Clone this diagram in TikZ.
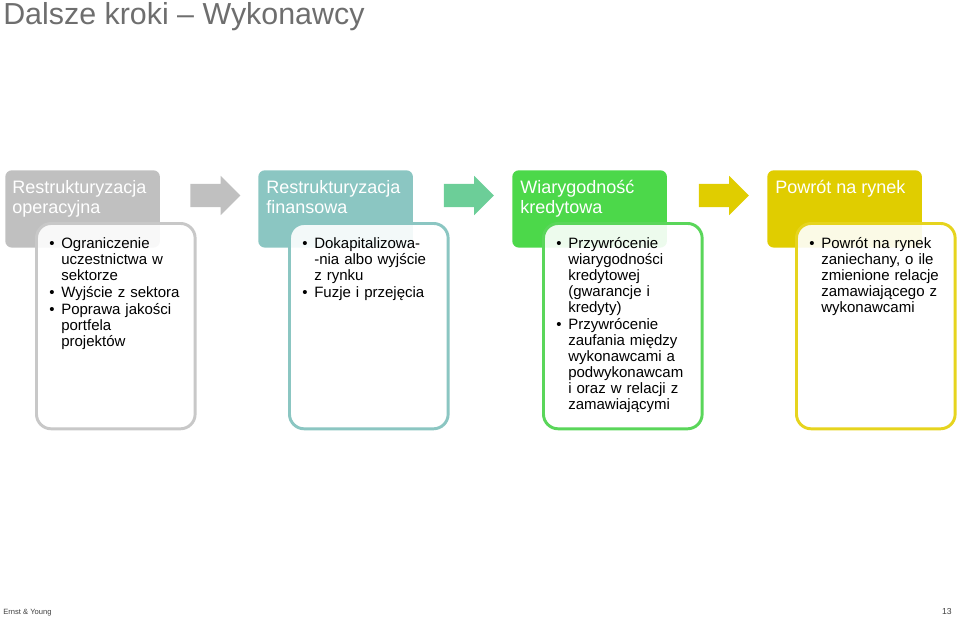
\documentclass[tikz,border=0pt]{standalone}
\usepackage{fontspec}
\setmainfont{Liberation Sans}
\usetikzlibrary{shapes.arrows}

\definecolor{szary}{RGB}{192,192,192}
\definecolor{szaryram}{RGB}{200,200,200}
\definecolor{morski}{RGB}{139,198,194}
\definecolor{mietowy}{RGB}{108,206,152}
\definecolor{zielony}{RGB}{76,216,74}
\definecolor{zielram}{RGB}{90,214,90}
\definecolor{zolty}{RGB}{224,205,0}
\definecolor{zoltram}{RGB}{230,212,30}
\definecolor{tytul}{RGB}{110,110,110}

\newenvironment{punkty}{\begin{list}{\textbullet}{\setlength{\leftmargin}{12pt}\setlength{\labelsep}{5pt}%
  \setlength{\labelwidth}{7pt}\setlength{\itemsep}{1pt}\setlength{\parsep}{0pt}%
  \setlength{\topsep}{0pt}\setlength{\partopsep}{0pt}}}{\end{list}}

\tikzset{
    naglowek/.style={anchor=north west, rounded corners=5pt, minimum width=116pt, minimum height=58pt, inner sep=0pt},
    ramka/.style={anchor=north west, line width=2.2pt, rounded corners=11pt, fill=white, fill opacity=0.9,
        minimum width=119pt, minimum height=154pt, inner sep=0pt},
    tnagl/.style={anchor=north west, text=white, align=left, font=\fontsize{13.5}{15}\selectfont, inner sep=0pt},
    ttresc/.style={anchor=north west, text width=112pt, align=left, font=\fontsize{11.25}{12}\selectfont, inner sep=0pt},
    krok/.style={single arrow, single arrow head extend=6pt, single arrow head indent=0pt,
        minimum height=37.5pt, inner xsep=0pt, inner ysep=8.5pt}
}

\begin{document}
\begin{tikzpicture}[x=0.75pt, y=-0.75pt]
    \useasboundingbox (0,0) rectangle (960,617);
    \node[anchor=base west, inner sep=0pt, text=tytul, font=\fontsize{22.8}{26}\selectfont] (tytul) at (3,25) {Dalsze kroki -- Wykonawcy};

    % etap 1
    \node[naglowek, fill=szary] (n1) at (5,170) {};
    \node[tnagl] (tn1) at (12,180) {Restrukturyzacja\\operacyjna};
    \node[ramka, draw=szaryram] (r1) at (35,222) {};
    \node[ttresc] (t1) at (45,232) {\begin{punkty}
        \item Ograniczenie\\uczestnictwa w\\sektorze
        \item Wyjście z sektora
        \item Poprawa jakości\\portfela\\projektów
    \end{punkty}};

    % etap 2
    \node[naglowek, fill=morski] (n2) at (258,170) {};
    \node[tnagl] (tn2) at (266,180) {Restrukturyzacja\\finansowa};
    \node[ramka, draw=morski] (r2) at (288,222) {};
    \node[ttresc] (t2) at (298,232) {\begin{punkty}
        \item Dokapitalizowa-\\-nia albo wyjście\\z rynku
        \item Fuzje i przejęcia
    \end{punkty}};

    % etap 3
    \node[naglowek, fill=zielony] (n3) at (512,170) {};
    \node[tnagl] (tn3) at (520,180) {Wiarygodność\\kredytowa};
    \node[ramka, draw=zielram] (r3) at (542,222) {};
    \node[ttresc] (t3) at (552,232) {\begin{punkty}
        \item Przywrócenie\\wiarygodności\\kredytowej\\(gwarancje i\\kredyty)
        \item Przywrócenie\\zaufania między\\wykonawcami a\\podwykonawcam\\i oraz w relacji z\\zamawiającymi
    \end{punkty}};

    % etap 4
    \node[naglowek, fill=zolty] (n4) at (767,170) {};
    \node[tnagl] (tn4) at (775,180) {Powrót na rynek};
    \node[ramka, draw=zoltram] (r4) at (795,222) {};
    \node[ttresc] (t4) at (805,232) {\begin{punkty}
        \item Powrót na rynek\\zaniechany, o ile\\zmienione relacje\\zamawiającego z\\wykonawcami
    \end{punkty}};

    % strzalki
    \node[krok, fill=szary] (s1) at (209.5,195.5) {};
    \node[krok, fill=mietowy] (s2) at (463,195.5) {};
    \node[krok, fill=zolty] (s3) at (718,195.5) {};

    % stopka
    \node[anchor=base west, inner sep=0pt, text=black!75, font=\fontsize{5.7}{7}\selectfont] (firma) at (3,614) {Ernst \& Young};
    \node[anchor=base east, inner sep=0pt, text=black!75, font=\fontsize{6.5}{7}\selectfont] (strona) at (952,614) {13};
\end{tikzpicture}
\end{document}
